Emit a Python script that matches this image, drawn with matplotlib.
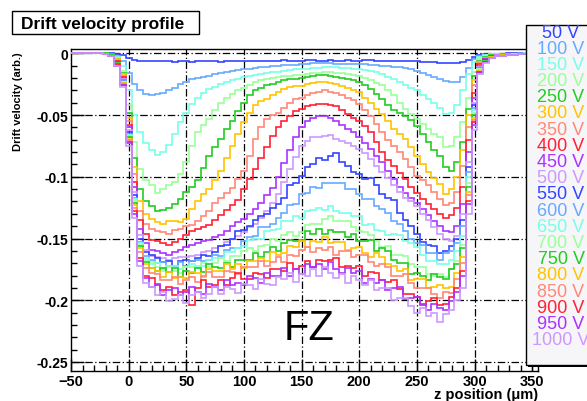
import matplotlib
matplotlib.use("Agg")
import matplotlib.pyplot as plt
from matplotlib.patches import Rectangle
from matplotlib.ticker import MultipleLocator, FixedLocator, FixedFormatter

# ---------------- data ----------------
# bin centres (um), 5 um bins from -50 to 350
z_centers = [-50, -45, -40, -35, -30, -25, -20, -15, -10, -5, 0, 5, 10, 15,
             20, 25, 30, 35, 40, 45, 50, 55, 60, 65, 70, 75, 80, 85, 90, 95,
             100, 105, 110, 115, 120, 125, 130, 135, 140, 145, 150, 155, 160, 165,
             170, 175, 180, 185, 190, 195, 200, 205, 210, 215, 220, 225, 230, 235,
             240, 245, 250, 255, 260, 265, 270, 275, 280, 285, 290, 295, 300, 305,
             310, 315, 320, 325, 330, 335, 340, 345, 350]
bin_width = 5

voltages = ["50 V", "100 V", "150 V", "200 V", "250 V", "300 V", "350 V", "400 V",
            "450 V", "500 V", "550 V", "600 V", "650 V", "700 V", "750 V", "800 V",
            "850 V", "900 V", "950 V", "1000 V"]

v50 = [0, 0, 0, 0, 0, 0,
       0, 0, -0.0005, -0.0015, -0.004, -0.0055, -0.006, -0.0065,
       -0.0065, -0.0060, -0.0062, -0.0066, -0.0068, -0.0062, -0.0063, -0.0068, -0.0066, -0.0060,
       -0.0061, -0.0066, -0.0067, -0.0061, -0.0064, -0.0059, -0.0062, -0.0066, -0.0066, -0.0060,
       -0.0060, -0.0065, -0.0063, -0.0058, -0.0059, -0.0064, -0.0062, -0.0057, -0.0058, -0.0063,
       -0.0061, -0.0056, -0.0060, -0.0062, -0.0057, -0.0059, -0.0061, -0.0056, -0.0058, -0.0062,
       -0.0060, -0.0059, -0.0062, -0.0060, -0.0061, -0.0063, -0.0064, -0.0067, -0.0070, -0.0074,
       -0.0077, -0.0080, -0.0082,
       -0.0080, -0.0072, -0.0055, -0.0030, -0.0012, -0.0006, -0.0004, -0.0003, -0.0002, -0.0001, 0, 0, 0, 0]
v100 = [0, 0, 0, 0, 0, 0,
        0, -0.0005, -0.002, -0.006, -0.016, -0.025, -0.030, -0.033,
        -0.034, -0.033, -0.032, -0.030, -0.028, -0.025, -0.023, -0.021, -0.020, -0.019,
        -0.018, -0.017, -0.016, -0.015, -0.014, -0.0135, -0.0128, -0.0123, -0.012, -0.0113,
        -0.011, -0.0105, -0.0102, -0.0098, -0.0095, -0.0091, -0.0088, -0.0085, -0.0082, -0.0081,
        -0.0080, -0.0081, -0.0083, -0.0084, -0.0085, -0.0087, -0.0088, -0.0090, -0.0092, -0.0096,
        -0.0100, -0.0104, -0.0108, -0.0113, -0.0120, -0.0130, -0.0140, -0.0157, -0.0175, -0.0192,
        -0.0210, -0.0225, -0.0235,
        -0.0230, -0.0190, -0.0120, -0.0050, -0.0020, -0.0010, -0.0007, -0.0005, -0.0004, -0.0003, -0.0002, -0.0001, 0, 0]
v150 = [0, 0, 0, 0, 0, 0,
        0, -0.001, -0.003, -0.010, -0.030, -0.050, -0.064, -0.073,
        -0.078, -0.082, -0.080, -0.074, -0.065, -0.056, -0.048, -0.041, -0.036, -0.032,
        -0.029, -0.027, -0.025, -0.0235, -0.022, -0.0205, -0.0195, -0.0185, -0.0175, -0.0168,
        -0.016, -0.0155, -0.015, -0.0142, -0.0137, -0.0131, -0.0127, -0.0123, -0.012, -0.0116,
        -0.0113, -0.0112, -0.0113, -0.0116, -0.012, -0.0123, -0.0127, -0.0133, -0.014, -0.0152,
        -0.0167, -0.0188, -0.021, -0.0235, -0.026, -0.028, -0.030, -0.0335, -0.037, -0.0405,
        -0.044, -0.049, -0.048,
        -0.042, -0.030, -0.017, -0.007, -0.003, -0.0015, -0.0009, -0.0007, -0.0005, -0.0004, -0.0003, -0.0002, -0.0001, 0]
v200 = [0, 0, 0, 0, 0, 0,
        0, -0.001, -0.004, -0.014, -0.042, -0.072, -0.094, -0.103,
        -0.107, -0.113, -0.110, -0.107, -0.104, -0.098, -0.088, -0.075, -0.064, -0.058,
        -0.053, -0.046, -0.040, -0.036, -0.033, -0.030, -0.028, -0.0255, -0.0235, -0.022,
        -0.021, -0.0202, -0.0195, -0.0185, -0.018, -0.0178, -0.0175, -0.0165, -0.016, -0.0156,
        -0.0154, -0.0155, -0.0158, -0.0162, -0.0168, -0.0173, -0.018, -0.020, -0.022, -0.024,
        -0.026, -0.030, -0.034, -0.040, -0.045, -0.049, -0.053, -0.057, -0.061, -0.065,
        -0.068, -0.076, -0.075,
        -0.068, -0.056, -0.036, -0.015, -0.005, -0.0025, -0.0014, -0.001, -0.0008, -0.0006, -0.0004, -0.0003, -0.0002, -0.0001]
v250 = [0, 0, 0, 0, 0, 0,
        0, -0.001, -0.005, -0.016, -0.048, -0.085, -0.110, -0.120,
        -0.124, -0.128, -0.127, -0.125, -0.122, -0.118, -0.112, -0.108, -0.103, -0.093,
        -0.083, -0.076, -0.069, -0.061, -0.0545, -0.047, -0.040, -0.034, -0.030, -0.028,
        -0.026, -0.0248, -0.0235, -0.022, -0.021, -0.0205, -0.020, -0.019, -0.018, -0.0178,
        -0.0176, -0.018, -0.019, -0.020, -0.021, -0.022, -0.0235, -0.026, -0.029, -0.033,
        -0.037, -0.042, -0.046, -0.048, -0.0505, -0.054, -0.0586, -0.065, -0.072, -0.078,
        -0.083, -0.092, -0.095,
        -0.088, -0.072, -0.045, -0.018, -0.006, -0.003, -0.0016, -0.0011, -0.0009, -0.0007, -0.0005, -0.0003, -0.0002, -0.0001]
v300 = [0, 0, 0, 0, 0, 0,
        -0.0002, -0.001, -0.005, -0.017, -0.052, -0.092, -0.120, -0.130,
        -0.134, -0.137, -0.138, -0.136, -0.136, -0.137, -0.134, -0.126, -0.120, -0.114,
        -0.110, -0.103, -0.095, -0.085, -0.075, -0.065, -0.056, -0.048, -0.042, -0.039,
        -0.037, -0.034, -0.0316, -0.029, -0.027, -0.0265, -0.0265, -0.025, -0.024, -0.0235,
        -0.0235, -0.024, -0.025, -0.0265, -0.028, -0.030, -0.0316, -0.036, -0.040, -0.045,
        -0.049, -0.055, -0.061, -0.065, -0.069, -0.076, -0.083, -0.090, -0.096, -0.101,
        -0.106, -0.114, -0.110,
        -0.100, -0.078, -0.050, -0.022, -0.007, -0.0035, -0.0018, -0.0012, -0.001, -0.0008, -0.0006, -0.0004, -0.0002, -0.0001]
v350 = [0, 0, 0, 0, 0, 0,
        -0.0002, -0.0012, -0.006, -0.018, -0.055, -0.098, -0.128, -0.138,
        -0.142, -0.144, -0.145, -0.146, -0.143, -0.142, -0.140, -0.139, -0.136, -0.132,
        -0.128, -0.121, -0.1175, -0.113, -0.109, -0.102, -0.095, -0.083, -0.069, -0.060,
        -0.053, -0.050, -0.048, -0.044, -0.040, -0.037, -0.036, -0.034, -0.032, -0.031,
        -0.030, -0.031, -0.032, -0.034, -0.036, -0.038, -0.041, -0.046, -0.0505, -0.057,
        -0.064, -0.070, -0.075, -0.080, -0.0856, -0.092, -0.099, -0.103, -0.107, -0.112,
        -0.118, -0.123, -0.121,
        -0.112, -0.091, -0.060, -0.026, -0.008, -0.004, -0.002, -0.0014, -0.0011, -0.0009, -0.0007, -0.0005, -0.0003, -0.0001]
v400 = [0, 0, 0, 0, 0, 0,
        -0.0003, -0.0013, -0.006, -0.019, -0.058, -0.104, -0.135, -0.146,
        -0.151, -0.152, -0.154, -0.155, -0.153, -0.150, -0.147, -0.144, -0.142, -0.141,
        -0.139, -0.135, -0.131, -0.127, -0.123, -0.119, -0.110, -0.102, -0.094, -0.085,
        -0.076, -0.067, -0.060, -0.055, -0.051, -0.047, -0.045, -0.043, -0.042, -0.041,
        -0.041, -0.042, -0.043, -0.046, -0.049, -0.052, -0.0545, -0.059, -0.064, -0.072,
        -0.080, -0.086, -0.091, -0.097, -0.102, -0.108, -0.113, -0.118, -0.122, -0.126,
        -0.130, -0.133, -0.131,
        -0.125, -0.108, -0.070, -0.032, -0.009, -0.0045, -0.0022, -0.0015, -0.0012, -0.001, -0.0008, -0.0005, -0.0003, -0.0001]
v450 = [0, 0, 0, 0, 0, 0,
        -0.0003, -0.0014, -0.007, -0.020, -0.060, -0.108, -0.142, -0.154,
        -0.159, -0.160, -0.162, -0.163, -0.161, -0.159, -0.157, -0.155, -0.154, -0.152,
        -0.151, -0.149, -0.147, -0.144, -0.140, -0.137, -0.134, -0.130, -0.126, -0.121,
        -0.115, -0.109, -0.100, -0.089, -0.078, -0.068, -0.060, -0.055, -0.052, -0.051,
        -0.0505, -0.052, -0.0546, -0.058, -0.061, -0.064, -0.068, -0.073, -0.0775, -0.083,
        -0.088, -0.095, -0.102, -0.108, -0.113, -0.117, -0.121, -0.126, -0.131, -0.136,
        -0.140, -0.144, -0.145,
        -0.140, -0.122, -0.080, -0.036, -0.010, -0.005, -0.0024, -0.0016, -0.0013, -0.001, -0.0008, -0.0005, -0.0003, -0.0001]
v500 = [0, 0, 0, 0, 0, 0,
        -0.0003, -0.0015, -0.007, -0.021, -0.062, -0.112, -0.147, -0.159,
        -0.164, -0.165, -0.166, -0.167, -0.166, -0.165, -0.165, -0.164, -0.163, -0.161,
        -0.160, -0.158, -0.156, -0.153, -0.150, -0.148, -0.145, -0.141, -0.138, -0.133,
        -0.128, -0.121, -0.114, -0.104, -0.094, -0.084, -0.075, -0.071, -0.068, -0.0675,
        -0.067, -0.0665, -0.069, -0.071, -0.073, -0.075, -0.0775, -0.081, -0.0856, -0.091,
        -0.096, -0.101, -0.107, -0.112, -0.117, -0.120, -0.124, -0.130, -0.135, -0.141,
        -0.146, -0.150, -0.152,
        -0.148, -0.130, -0.088, -0.040, -0.011, -0.0055, -0.0026, -0.0017, -0.0014, -0.0011, -0.0009, -0.0006, -0.0003, -0.0001]
v550 = [0, 0, 0, 0, 0, 0,
        -0.0004, -0.0015, -0.007, -0.022, -0.064, -0.115, -0.150, -0.161,
        -0.163, -0.166, -0.169, -0.168, -0.172, -0.168, -0.167, -0.168, -0.166, -0.163,
        -0.164, -0.161, -0.156, -0.155, -0.150, -0.144, -0.143, -0.140, -0.135, -0.132,
        -0.130, -0.125, -0.122, -0.117, -0.107, -0.105, -0.099, -0.092, -0.090, -0.085,
        -0.0866, -0.083, -0.081, -0.088, -0.091, -0.096, -0.098, -0.102, -0.101, -0.107,
        -0.114, -0.117, -0.119, -0.129, -0.135, -0.140, -0.146, -0.153, -0.155, -0.156,
        -0.162, -0.160, -0.156,
        -0.150, -0.135, -0.092, -0.042, -0.012, -0.0058, -0.0028, -0.0018, -0.0014, -0.0011, -0.0009, -0.0006, -0.0003, -0.0001]
v600 = [0, 0, 0, 0, 0, 0,
        -0.0004, -0.0016, -0.008, -0.022, -0.065, -0.117, -0.153, -0.164,
        -0.167, -0.170, -0.169, -0.172, -0.172, -0.169, -0.172, -0.168, -0.167, -0.168,
        -0.167, -0.163, -0.164, -0.159, -0.158, -0.158, -0.152, -0.149, -0.148, -0.141,
        -0.141, -0.138, -0.133, -0.129, -0.123, -0.122, -0.114, -0.113, -0.108, -0.109,
        -0.105, -0.105, -0.105, -0.105, -0.110, -0.110, -0.114, -0.118, -0.118, -0.124,
        -0.126, -0.129, -0.136, -0.138, -0.144, -0.150, -0.154, -0.155, -0.162, -0.162,
        -0.167, -0.162, -0.160,
        -0.154, -0.140, -0.096, -0.044, -0.012, -0.006, -0.0029, -0.0019, -0.0015, -0.0012, -0.0009, -0.0006, -0.0003, -0.0001]
v650 = [0, 0, 0, 0, 0, 0,
        -0.0004, -0.0016, -0.008, -0.023, -0.066, -0.118, -0.154, -0.166,
        -0.171, -0.170, -0.175, -0.172, -0.172, -0.175, -0.173, -0.171, -0.172, -0.172,
        -0.167, -0.166, -0.166, -0.161, -0.161, -0.158, -0.156, -0.151, -0.150, -0.150,
        -0.144, -0.143, -0.142, -0.136, -0.136, -0.132, -0.133, -0.128, -0.127, -0.125,
        -0.127, -0.1235, -0.128, -0.129, -0.129, -0.132, -0.132, -0.139, -0.138, -0.143,
        -0.144, -0.147, -0.146, -0.147, -0.152, -0.154, -0.157, -0.163, -0.168, -0.168,
        -0.171, -0.171, -0.167,
        -0.160, -0.148, -0.100, -0.046, -0.013, -0.0062, -0.003, -0.002, -0.0016, -0.0012, -0.0009, -0.0006, -0.0003, -0.0001]
v700 = [0, 0, 0, 0, 0, 0,
        -0.0004, -0.0017, -0.008, -0.023, -0.067, -0.120, -0.155, -0.167,
        -0.169, -0.173, -0.176, -0.173, -0.176, -0.178, -0.173, -0.173, -0.174, -0.170,
        -0.173, -0.170, -0.166, -0.168, -0.164, -0.164, -0.160, -0.158, -0.160, -0.156,
        -0.155, -0.150, -0.152, -0.147, -0.145, -0.148, -0.145, -0.139, -0.138, -0.138,
        -0.134, -0.132, -0.136, -0.136, -0.136, -0.141, -0.144, -0.145, -0.147, -0.152,
        -0.157, -0.156, -0.163, -0.163, -0.164, -0.171, -0.173, -0.173, -0.179, -0.180,
        -0.179, -0.181, -0.175,
        -0.168, -0.155, -0.105, -0.048, -0.013, -0.0064, -0.0031, -0.002, -0.0016, -0.0012, -0.0009, -0.0006, -0.0003, -0.0001]
v750 = [0, 0, 0, 0, 0, 0,
        -0.0005, -0.0017, -0.008, -0.024, -0.068, -0.121, -0.156, -0.169,
        -0.174, -0.176, -0.174, -0.177, -0.174, -0.181, -0.176, -0.178, -0.174, -0.177,
        -0.171, -0.173, -0.174, -0.170, -0.173, -0.167, -0.167, -0.167, -0.162, -0.165,
        -0.161, -0.157, -0.160, -0.154, -0.151, -0.152, -0.151, -0.144, -0.146, -0.142,
        -0.146, -0.143, -0.145, -0.145, -0.149, -0.146, -0.152, -0.152, -0.151, -0.160,
        -0.158, -0.160, -0.167, -0.170, -0.170, -0.179, -0.178, -0.180, -0.184, -0.179,
        -0.181, -0.183, -0.175,
        -0.171, -0.158, -0.108, -0.050, -0.014, -0.0066, -0.0032, -0.0021, -0.0017, -0.0013, -0.001, -0.0007, -0.0004, -0.0001]
v800 = [0, 0, 0, 0, 0, 0,
        -0.0005, -0.0018, -0.009, -0.024, -0.069, -0.123, -0.158, -0.171,
        -0.174, -0.176, -0.181, -0.177, -0.182, -0.181, -0.182, -0.177, -0.178, -0.181,
        -0.175, -0.176, -0.176, -0.171, -0.175, -0.171, -0.174, -0.168, -0.168, -0.166,
        -0.168, -0.161, -0.163, -0.162, -0.156, -0.157, -0.152, -0.157, -0.152, -0.153,
        -0.149, -0.154, -0.153, -0.153, -0.159, -0.158, -0.157, -0.162, -0.165, -0.162,
        -0.165, -0.171, -0.172, -0.176, -0.175, -0.184, -0.183, -0.183, -0.190, -0.189,
        -0.188, -0.190, -0.189,
        -0.178, -0.165, -0.112, -0.052, -0.014, -0.0068, -0.0033, -0.0022, -0.0017, -0.0013, -0.001, -0.0007, -0.0004, -0.0001]
v850 = [0, 0, 0, 0, 0, 0,
        -0.0005, -0.0018, -0.009, -0.025, -0.070, -0.125, -0.161, -0.174,
        -0.178, -0.179, -0.184, -0.184, -0.181, -0.187, -0.184, -0.181, -0.185, -0.180,
        -0.177, -0.181, -0.181, -0.176, -0.177, -0.179, -0.173, -0.173, -0.173, -0.168,
        -0.172, -0.169, -0.165, -0.169, -0.163, -0.164, -0.159, -0.157, -0.161, -0.158,
        -0.159, -0.157, -0.163, -0.160, -0.160, -0.165, -0.1635, -0.163, -0.169, -0.172,
        -0.171, -0.173, -0.180, -0.180, -0.179, -0.186, -0.190, -0.190, -0.190, -0.195,
        -0.198, -0.193, -0.194,
        -0.183, -0.170, -0.115, -0.054, -0.015, -0.007, -0.0034, -0.0022, -0.0018, -0.0014, -0.001, -0.0007, -0.0004, -0.0001]
v900 = [0, 0, 0, 0, 0, 0,
        -0.0005, -0.0019, -0.009, -0.026, -0.072, -0.128, -0.166, -0.180,
        -0.182, -0.188, -0.192, -0.189, -0.196, -0.193, -0.192, -0.204, -0.190, -0.184,
        -0.189, -0.188, -0.184, -0.188, -0.182, -0.178, -0.183, -0.183, -0.178, -0.179,
        -0.182, -0.175, -0.175, -0.176, -0.170, -0.175, -0.172, -0.168, -0.173, -0.167,
        -0.1685, -0.167, -0.166, -0.173, -0.172, -0.174, -0.172, -0.180, -0.177, -0.178,
        -0.184, -0.185, -0.184, -0.191, -0.195, -0.195, -0.197, -0.204, -0.201, -0.198,
        -0.204, -0.203, -0.197,
        -0.190, -0.176, -0.120, -0.056, -0.015, -0.0072, -0.0035, -0.0023, -0.0018, -0.0014, -0.0011, -0.0007, -0.0004, -0.0001]
v950 = [0, 0, 0, 0, 0, 0,
        -0.0005, -0.0019, -0.010, -0.026, -0.073, -0.130, -0.168, -0.182,
        -0.189, -0.187, -0.196, -0.192, -0.190, -0.196, -0.193, -0.189, -0.193, -0.195,
        -0.187, -0.189, -0.192, -0.184, -0.188, -0.186, -0.188, -0.180, -0.182, -0.186,
        -0.178, -0.180, -0.180, -0.174, -0.180, -0.175, -0.179, -0.171, -0.173, -0.171,
        -0.175, -0.169, -0.175, -0.178, -0.174, -0.178, -0.176, -0.186, -0.183, -0.186,
        -0.1835, -0.192, -0.190, -0.189, -0.199, -0.198, -0.197, -0.203, -0.208, -0.203,
        -0.206, -0.208, -0.201,
        -0.193, -0.180, -0.122, -0.058, -0.016, -0.0074, -0.0036, -0.0023, -0.0018, -0.0014, -0.0011, -0.0007, -0.0004, -0.0001]
v1000 = [0, 0, 0, 0, 0, 0,
         -0.0006, -0.002, -0.010, -0.027, -0.075, -0.133, -0.172, -0.186,
         -0.189, -0.196, -0.193, -0.201, -0.199, -0.196, -0.202, -0.196, -0.193, -0.198,
         -0.195, -0.189, -0.195, -0.189, -0.191, -0.194, -0.187, -0.188, -0.191, -0.183,
         -0.187, -0.188, -0.181, -0.183, -0.178, -0.185, -0.179, -0.180, -0.175, -0.180,
         -0.173, -0.178, -0.182, -0.179, -0.186, -0.180, -0.184, -0.188, -0.184, -0.192,
         -0.190, -0.190, -0.200, -0.198, -0.198, -0.205, -0.210, -0.206, -0.213, -0.210,
         -0.218, -0.211, -0.208,
         -0.200, -0.190, -0.130, -0.062, -0.017, -0.0077, -0.0037, -0.0024, -0.0019, -0.0015, -0.0011, -0.0008, -0.0004, -0.0001]

series = [v50, v100, v150, v200, v250, v300, v350, v400, v450, v500,
          v550, v600, v650, v700, v750, v800, v850, v900, v950, v1000]

palette = ["#3344ff", "#66aaff", "#77ffe8", "#99ff99", "#22cc22",
           "#ffc400", "#ff8877", "#ff2035", "#aa33ff", "#cc99ff"]

x_ticks = [-50, 0, 50, 100, 150, 200, 250, 300, 350]
y_ticks = [0, -0.05, -0.1, -0.15, -0.2, -0.25]
y_tick_labels = ["0", "-0.05", "-0.1", "-0.15", "-0.2", "-0.25"]

for name, s in zip(voltages, series):
    if len(s) != len(z_centers):
        raise ValueError(f"{name}: {len(s)} values, expected {len(z_centers)}")

# ---------------- figure ----------------
W, H = 587, 402
fig = plt.figure(figsize=(W / 100, H / 100), dpi=100)
fig.patch.set_facecolor("white")

FONT = "Liberation Sans"

def fx(px):
    return px / W

def fy(py):
    return 1 - py / H

ax_l, ax_r, ax_t, ax_b = 71, 538, 50, 372
ax = fig.add_axes([fx(ax_l), fy(ax_b), fx(ax_r - ax_l), (ax_b - ax_t) / H])
ax.set_xlim(-50, 355)
ax.set_ylim(-0.2573, 0.0035)

edges = [c - bin_width / 2 for c in z_centers] + [z_centers[-1] + bin_width / 2]
for i, vals in enumerate(series):
    ax.stairs(vals, edges, color=palette[i % 10], lw=1.2, baseline=None, zorder=3 + i * 0.01)

# grid (dash-dot, ROOT style)
for xt in x_ticks[1:]:
    ax.axvline(xt, color="black", lw=0.9, ls=(0, (6, 2, 1, 2)), zorder=1)
for yt in y_ticks:
    ax.axhline(yt, color="black", lw=0.9, ls=(0, (6, 2, 1, 2)), zorder=1)

ax.xaxis.set_major_locator(FixedLocator(x_ticks))
ax.xaxis.set_minor_locator(MultipleLocator(10))
ax.yaxis.set_major_locator(FixedLocator(y_ticks))
ax.yaxis.set_major_formatter(FixedFormatter(y_tick_labels))
ax.yaxis.set_minor_locator(MultipleLocator(0.01))
ax.tick_params(which="major", direction="in", length=9, width=1, pad=2)
ax.tick_params(axis="x", which="major", labelsize=10.5)
ax.tick_params(axis="y", which="major", labelsize=10)
ax.tick_params(which="minor", direction="in", length=4.5, width=1)
for lab in ax.get_xticklabels() + ax.get_yticklabels():
    lab.set_fontfamily(FONT)
    lab.set_fontweight("bold")
for sp in ax.spines.values():
    sp.set_linewidth(1)

# axis titles
fig.text(fx(18), fy(52), "Drift velocity (arb.)", rotation=90, ha="center", va="top",
         fontfamily=FONT, fontweight="bold", fontsize=8)
fig.text(fx(538), fy(395), "z position (\u03bcm)", ha="right", va="center",
         fontfamily=FONT, fontweight="bold", fontsize=10.5)

# title box
fig.patches.append(Rectangle((fx(12), fy(35)), fx(199 - 12), (35 - 12) / H,
                             transform=fig.transFigure, facecolor="white",
                             edgecolor="black", lw=1, zorder=5))
fig.text(fx(21), fy(24), "Drift velocity profile", ha="left", va="center",
         fontfamily=FONT, fontweight="bold", fontsize=12.5, zorder=6)

# FZ label
ax.text(156, -0.2225, "FZ", ha="center", va="center", fontfamily=FONT,
        fontsize=30, zorder=10)

# legend box
leg_l, leg_t, leg_b = 526, 26, 366
fig.patches.append(Rectangle((fx(leg_l + 2), fy(leg_b + 2)), fx(W - leg_l), (leg_b - leg_t) / H,
                             transform=fig.transFigure, facecolor="black",
                             edgecolor="none", zorder=7))
fig.patches.append(Rectangle((fx(leg_l), fy(leg_b)), fx(W - leg_l + 5), (leg_b - leg_t) / H,
                             transform=fig.transFigure, facecolor="#f6f6f8",
                             edgecolor="black", lw=1, zorder=8))
for i, v in enumerate(voltages):
    fig.text(fx(561), fy(33 + i * 16.2), v, ha="center", va="center",
             color=palette[i % 10], fontfamily=FONT, fontsize=13, zorder=9)

fig.savefig("out.png", dpi=100)
